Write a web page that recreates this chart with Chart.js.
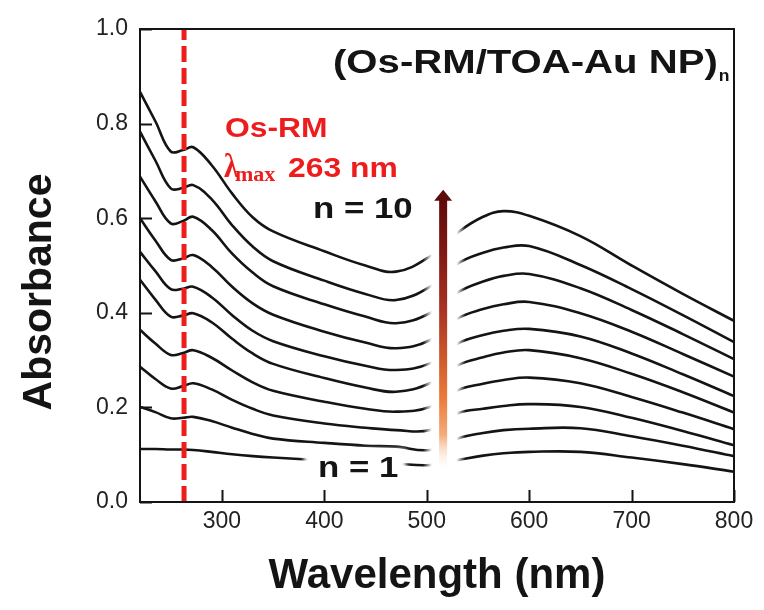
<!DOCTYPE html>
<html>
<head>
<meta charset="utf-8">
<title>(Os-RM/TOA-Au NP)n UV-vis</title>
<script src="https://cdn.jsdelivr.net/npm/chart.js@4.4.1/dist/chart.umd.min.js"></script>
<style>
  html, body { margin: 0; padding: 0; background: #fff; }
  canvas { display: block; }
</style>
</head>
<body>
<canvas id="uv" width="764" height="610"></canvas>
<script>
// Sampled wavelengths (nm) shared by every spectrum
const WAVELENGTHS = [220, 235, 250, 262, 272, 290, 310, 330, 350, 400, 440, 470, 503,
  531, 555, 575, 600, 650, 700, 750, 800];

// Absorbance after n deposition cycles
const N1 = [0.112, 0.112, 0.111, 0.111, 0.110, 0.106, 0.101, 0.097, 0.094, 0.088, 0.084, 0.081, 0.078,
  0.089, 0.098, 0.103, 0.106, 0.106, 0.094, 0.080, 0.064];
const N2 = [0.201, 0.190, 0.177, 0.178, 0.180, 0.171, 0.157, 0.144, 0.134, 0.125, 0.119, 0.117, 0.110,
  0.135, 0.146, 0.152, 0.155, 0.156, 0.139, 0.119, 0.097];
const N3 = [0.286, 0.260, 0.240, 0.245, 0.251, 0.238, 0.216, 0.197, 0.183, 0.166, 0.157, 0.152, 0.152,
  0.188, 0.197, 0.203, 0.207, 0.201, 0.178, 0.150, 0.120];
const N4 = [0.364, 0.335, 0.311, 0.315, 0.321, 0.305, 0.278, 0.253, 0.235, 0.212, 0.197, 0.191, 0.201,
  0.237, 0.250, 0.258, 0.263, 0.251, 0.222, 0.189, 0.154];
const N5 = [0.470, 0.428, 0.392, 0.394, 0.399, 0.380, 0.345, 0.314, 0.292, 0.262, 0.242, 0.233, 0.251,
  0.290, 0.306, 0.316, 0.321, 0.304, 0.271, 0.232, 0.189];
const N6 = [0.529, 0.488, 0.450, 0.451, 0.455, 0.433, 0.395, 0.362, 0.340, 0.308, 0.288, 0.279, 0.293,
  0.336, 0.353, 0.362, 0.366, 0.350, 0.314, 0.270, 0.224];
const N7 = [0.600, 0.553, 0.512, 0.515, 0.522, 0.497, 0.455, 0.420, 0.396, 0.360, 0.337, 0.325, 0.342,
  0.389, 0.408, 0.418, 0.423, 0.399, 0.360, 0.313, 0.265];
const N8 = [0.688, 0.636, 0.589, 0.594, 0.603, 0.575, 0.525, 0.485, 0.456, 0.418, 0.392, 0.378, 0.399,
  0.444, 0.466, 0.478, 0.482, 0.452, 0.406, 0.355, 0.302];
const N9 = [0.783, 0.722, 0.663, 0.664, 0.670, 0.640, 0.585, 0.540, 0.509, 0.468, 0.440, 0.427, 0.455,
  0.505, 0.527, 0.538, 0.541, 0.501, 0.450, 0.395, 0.338];
const N10 = [0.867, 0.805, 0.741, 0.744, 0.750, 0.712, 0.652, 0.602, 0.572, 0.530, 0.500, 0.487, 0.519,
  0.571, 0.603, 0.615, 0.605, 0.562, 0.500, 0.440, 0.383];

const SPECTRA = [N1, N2, N3, N4, N5, N6, N7, N8, N9, N10];

const X_TICKS = [300, 400, 500, 600, 700, 800];
const Y_TICKS = [0.0, 0.2, 0.4, 0.6, 0.8, 1.0];

// Os-RM absorption maximum (nm)
const LAMBDA_MAX = 263;

// where the spectra are broken for the growth arrow (nm)
const GAP_FROM = 505;
const GAP_TO = 529;
const ARROW_AT = 516;

const SANS = "'Liberation Sans', Arial, sans-serif";
const SERIF = "'Liberation Serif', 'Times New Roman', serif";
const RED = '#ee1d1d';
const INK = '#141414';

const toPoints = (ys) => WAVELENGTHS.map((x, i) => ({ x, y: ys[i] }));

/**
 * Fill text with an optional horizontal stretch, left/baseline anchored.
 * @returns {number} drawn width in px
 */
function drawText(ctx, text, x, y, font, color, sx = 1) {
  ctx.save();
  ctx.font = font;
  ctx.fillStyle = color;
  ctx.textAlign = 'left';
  ctx.textBaseline = 'alphabetic';
  ctx.translate(x, y);
  ctx.scale(sx, 1);
  ctx.fillText(text, 0, 0);
  const w = ctx.measureText(text).width * sx;
  ctx.restore();
  return w;
}

// white out the spectra behind the arrow, with soft edges
function eraseGap(ctx, xs, ys) {
  const x0 = xs.getPixelForValue(GAP_FROM);
  const x1 = xs.getPixelForValue(GAP_TO);
  const top = ys.getPixelForValue(0.66);
  const bottom = ys.getPixelForValue(0.04);
  const fade = 9;
  const total = x1 - x0 + 2 * fade;
  const g = ctx.createLinearGradient(x0 - fade, 0, x1 + fade, 0);
  g.addColorStop(0, 'rgba(255,255,255,0)');
  g.addColorStop(fade / total, '#fff');
  g.addColorStop(1 - fade / total, '#fff');
  g.addColorStop(1, 'rgba(255,255,255,0)');
  ctx.fillStyle = g;
  ctx.fillRect(x0 - fade, top, total, bottom - top);
}

function drawArrow(ctx, xs, ys) {
  const x = xs.getPixelForValue(ARROW_AT);
  const tip = ys.getPixelForValue(0.66);
  const tail = ys.getPixelForValue(0.063);
  const g = ctx.createLinearGradient(0, tip, 0, tail);
  g.addColorStop(0, '#560909');
  g.addColorStop(0.2, '#7c1712');
  g.addColorStop(0.42, '#a63222');
  g.addColorStop(0.62, '#d45e2c');
  g.addColorStop(0.74, '#eb7b3b');
  g.addColorStop(0.87, '#f4ad7c');
  g.addColorStop(1, 'rgba(255,255,255,0)');
  ctx.save();
  ctx.fillStyle = g;
  ctx.fillRect(x - 4, tip + 9, 8, tail - tip - 9);
  ctx.beginPath();
  ctx.moveTo(x, tip);
  ctx.lineTo(x + 9, tip + 11);
  ctx.lineTo(x - 9, tip + 11);
  ctx.closePath();
  ctx.fill();
  ctx.restore();
}

function drawLabels(ctx) {
  // backing for the n = 1 label
  ctx.save();
  ctx.filter = 'blur(2px)';
  ctx.fillStyle = '#fff';
  ctx.fillRect(304, 449, 102, 34);
  ctx.restore();

  const w = drawText(ctx, '(Os-RM/TOA-Au NP)', 333, 73, `bold 34px ${SANS}`, INK, 1.18);
  drawText(ctx, 'n', 333 + w + 1, 81, `bold 16px ${SANS}`, INK, 1.1);

  drawText(ctx, 'Os-RM', 225, 137, `bold 27px ${SANS}`, RED, 1.18);
  drawText(ctx, 'λ', 224, 177, `bold 34px ${SERIF}`, RED, 0.85);
  drawText(ctx, 'max', 235, 181, `bold 20px ${SERIF}`, RED, 1.1);
  drawText(ctx, '263 nm', 288, 177, `bold 27px ${SANS}`, RED, 1.18);

  drawText(ctx, 'n = 10', 313, 218, `bold 30px ${SANS}`, INK, 1.16);
  drawText(ctx, 'n = 1', 318, 477, `bold 30px ${SANS}`, INK, 1.16);

  ctx.save();
  ctx.translate(40, 292);
  ctx.rotate(-Math.PI / 2);
  ctx.font = `bold 41px ${SANS}`;
  ctx.fillStyle = INK;
  ctx.textAlign = 'center';
  ctx.textBaseline = 'middle';
  ctx.fillText('Absorbance', 0, 0);
  ctx.restore();
}

// box frame plus inward major ticks on the bottom and left axes
function drawFrame(ctx, area, xs, ys) {
  ctx.save();
  ctx.strokeStyle = INK;
  ctx.lineWidth = 2;
  ctx.strokeRect(area.left, area.top, area.right - area.left, area.bottom - area.top);
  ctx.beginPath();
  X_TICKS.forEach((v) => {
    const px = Math.round(xs.getPixelForValue(v)) + 0.5;
    ctx.moveTo(px, area.bottom);
    ctx.lineTo(px, area.bottom - 12);
  });
  Y_TICKS.forEach((v) => {
    const py = Math.round(ys.getPixelForValue(v)) + 0.5;
    ctx.moveTo(area.left, py);
    ctx.lineTo(area.left + 12, py);
  });
  ctx.stroke();
  ctx.restore();
}

const decorations = {
  id: 'uvDecorations',
  afterDraw(chart) {
    const { ctx, chartArea, scales: { x, y } } = chart;
    eraseGap(ctx, x, y);
    drawArrow(ctx, x, y);
    drawLabels(ctx);
    drawFrame(ctx, chartArea, x, y);
  },
};

const datasets = [
  {
    label: `λmax ${LAMBDA_MAX} nm`,
    data: [{ x: LAMBDA_MAX, y: 0 }, { x: LAMBDA_MAX, y: 1 }],
    borderColor: RED,
    borderWidth: 5,
    borderDash: [16, 6],
    borderCapStyle: 'butt',
    order: 0,
  },
  ...SPECTRA.map((ys, i) => ({
    label: `n = ${i + 1}`,
    data: toPoints(ys),
    borderColor: INK,
    borderWidth: 2.6,
    tension: 0.4,
    order: 1,
  })),
];

const tickFont = { family: SANS, size: 23 };

new Chart(document.getElementById('uv').getContext('2d'), {
  type: 'line',
  data: { datasets },
  options: {
    responsive: false,
    animation: false,
    devicePixelRatio: 1,
    layout: { padding: { top: 29, right: 30, bottom: 0, left: 0 } },
    elements: { point: { radius: 0 } },
    plugins: {
      legend: { display: false },
      tooltip: { enabled: false },
    },
    scales: {
      x: {
        type: 'linear',
        min: 220,
        max: 800,
        grid: { display: false, drawTicks: false },
        border: { display: false },
        afterBuildTicks: (scale) => { scale.ticks = X_TICKS.map((value) => ({ value })); },
        afterFit: (scale) => { scale.height = 108; },
        ticks: {
          padding: 6,
          color: '#222',
          font: tickFont,
          maxRotation: 0,
          autoSkip: false,
          callback: (v) => String(v),
        },
        title: {
          display: true,
          text: 'Wavelength (nm)',
          color: INK,
          font: { family: SANS, size: 42, weight: 'bold' },
          padding: { top: 0, bottom: 8 },
        },
      },
      y: {
        type: 'linear',
        min: 0,
        max: 1,
        grid: { display: false, drawTicks: false },
        border: { display: false },
        afterBuildTicks: (scale) => { scale.ticks = Y_TICKS.map((value) => ({ value })); },
        afterFit: (scale) => { scale.width = 140; },
        ticks: {
          padding: 12,
          color: '#222',
          font: tickFont,
          callback: (v) => v.toFixed(1),
        },
      },
    },
  },
  plugins: [decorations],
});
</script>
</body>
</html>
